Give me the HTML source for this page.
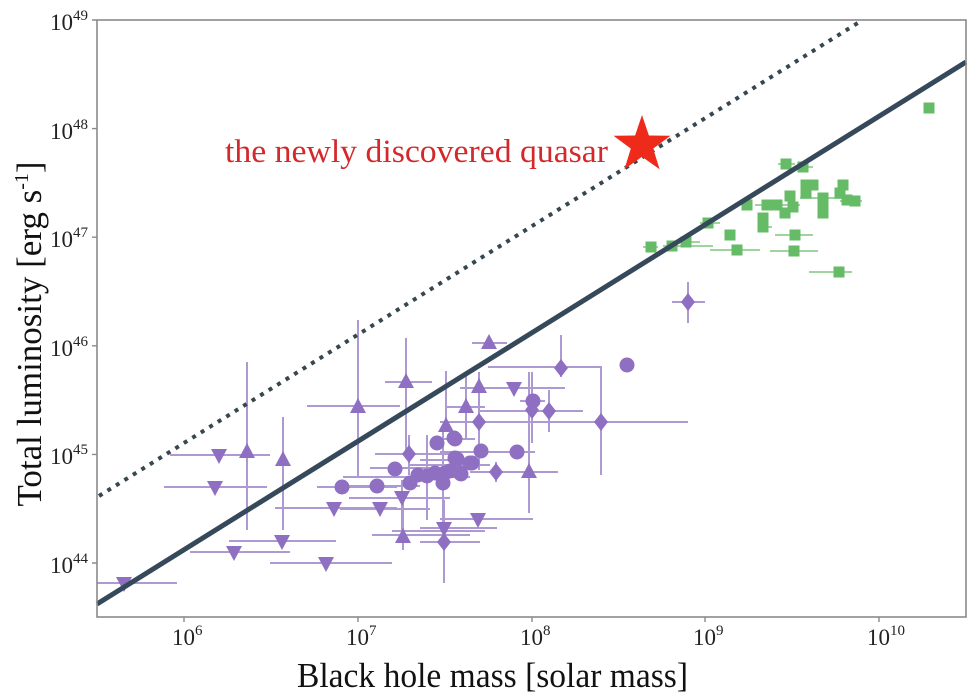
<!DOCTYPE html>
<html><head><meta charset="utf-8"><style>
html,body{margin:0;padding:0;background:#fff;}
svg{display:block;font-family:"Liberation Serif",serif;}
</style></head><body>
<svg width="980" height="700" viewBox="0 0 980 700" xmlns="http://www.w3.org/2000/svg">
<rect width="980" height="700" fill="#fff"/>
<path fill="none" stroke="#9fd49f" stroke-width="2" d="M778 164H795M794 167H813M800 198H845M840 201H862M755 205H800M758 227H772M700 223H720M775 235H813M677 242H700M663 246H713M643 247H658M710 250H760M770 251H818M809 272H852"/>
<path fill="#66bb66" d="M923.5 102.5h11v11h-11zM780.5 158.5h11v11h-11zM797.5 161.5h11v11h-11zM800.5 179.5h11v11h-11zM807.5 179.5h11v11h-11zM837.5 179.5h11v11h-11zM800.5 187.5h11v11h-11zM784.5 190.5h11v11h-11zM817.5 192.5h11v11h-11zM834.5 187.5h11v11h-11zM841.5 194.5h11v11h-11zM849.5 195.5h11v11h-11zM741.5 199.5h11v11h-11zM761.5 199.5h11v11h-11zM771.5 199.5h11v11h-11zM787.5 201.5h11v11h-11zM817.5 201.5h11v11h-11zM779.5 207.5h11v11h-11zM817.5 207.5h11v11h-11zM757.5 212.5h11v11h-11zM757.5 221.5h11v11h-11zM702.5 217.5h11v11h-11zM724.5 229.5h11v11h-11zM789.5 229.5h11v11h-11zM680.5 236.5h11v11h-11zM666.5 240.5h11v11h-11zM645.5 241.5h11v11h-11zM731.5 244.5h11v11h-11zM788.5 245.5h11v11h-11zM833.5 266.5h11v11h-11z"/>
<path fill="none" stroke="#ad9ad3" stroke-width="2" d="M97 583H177M170 455H270M247 362V530M164 487H267M283 417V530M229 541H336M190 552H290M270 563H392M358 320V477M307 406H400M317 487H397M335 486H420M275 508H397M340 509H430M406 338V453M385 382H432M375 454H450M409 435V475M370 468H430M343 477H470M427 435V520M443 430V530M349 498H450M402 480V540M440 519H533M420 528H497M372 535H470M403 500V550M420 542H480M444 500V583M392 531H485M472 343H507M488 367H602M561 335V377M517 422H688M601 368V475M460 388H565M479 372V470M445 407H485M466 375V440M446 371V430M520 401H545M480 411H583M532 372V443M549 390V432M440 422H600M440 439H475M440 452H510M500 452H535M470 472H520M496 462V482M529 372V513M505 472H558M672 302H705M688 282V323M420 460H475M410 465H490"/>
<path fill="#8f6fc2" d="M116 577h16l-8 15zM211 449h16l-8 15zM207 481h16l-8 15zM274 535h16l-8 15zM226 546h16l-8 15zM318 557h16l-8 15zM326 502h16l-8 15zM372 502h16l-8 15zM394 491h16l-8 15zM470 513h16l-8 15zM436 522h16l-8 15zM506 382h16l-8 15z"/>
<path fill="#8f6fc2" d="M247 443l8 15h-16zM283 451l8 15h-16zM358 398l8 15h-16zM406 373l8 15h-16zM489 334l8 15h-16zM479 378l8 15h-16zM466 398l8 15h-16zM446 417l8 15h-16zM403 528l8 15h-16zM529 463l8 15h-16z"/>
<path fill="#8f6fc2" d="M479 413l7 9-7 9-7-9zM409 445l7 9-7 9-7-9zM444 533l7 9-7 9-7-9zM561 359l7 9-7 9-7-9zM601 413l7 9-7 9-7-9zM532 401l7 9-7 9-7-9zM549 402l7 9-7 9-7-9zM496 463l7 9-7 9-7-9zM688 293l7 9-7 9-7-9z"/>
<g fill="#8f6fc2">
<circle cx="342" cy="487" r="7.5"/><circle cx="377" cy="486" r="7.5"/><circle cx="395" cy="469" r="7.5"/><circle cx="437" cy="443" r="7.5"/>
<circle cx="454" cy="438" r="7.5"/><circle cx="418" cy="475" r="7.5"/><circle cx="427" cy="476" r="7.5"/><circle cx="435" cy="473" r="7.5"/>
<circle cx="445" cy="473" r="7.5"/><circle cx="450" cy="471" r="7.5"/><circle cx="457" cy="459" r="7.5"/><circle cx="461" cy="474" r="7.5"/>
<circle cx="472" cy="463" r="7.5"/><circle cx="481" cy="451" r="7.5"/><circle cx="410" cy="483" r="7.5"/><circle cx="443" cy="483" r="7.5"/>
<circle cx="627" cy="365" r="7.5"/><circle cx="533" cy="401" r="7.5"/><circle cx="455" cy="439" r="7.5"/><circle cx="517" cy="452" r="7.5"/>
<circle cx="455" cy="458" r="7.5"/><circle cx="470" cy="463" r="7.5"/><circle cx="460" cy="473" r="7.5"/>
</g>
<line x1="97" y1="604" x2="966" y2="62" stroke="#35495a" stroke-width="5"/>
<line x1="99" y1="496" x2="861" y2="21" stroke="#37474f" stroke-width="4" stroke-dasharray="4 6"/>
<polygon fill="#ee2a1b" points="642.0,115.0 648.9,135.5 670.5,135.7 653.2,148.6 659.6,169.3 642.0,156.8 624.4,169.3 630.8,148.6 613.5,135.7 635.1,135.5"/>
<text x="225" y="162" font-size="33" fill="#d4292b" textLength="383" lengthAdjust="spacingAndGlyphs">the newly discovered quasar</text>
<rect x="97" y="20" width="869" height="597" fill="none" stroke="#8a8a8a" stroke-width="1.6"/>
<path fill="none" stroke="#8a8a8a" stroke-width="1.4" d="M92 20H97M92 128.6H97M92 237.2H97M92 345.8H97M92 454.4H97M92 563H97M184 617V622M358 617V622M532 617V622M705 617V622M879 617V622"/>
<g font-size="23" fill="#222" text-anchor="end">
<text x="88" y="30">10<tspan dy="-10" font-size="15">49</tspan></text>
<text x="88" y="139">10<tspan dy="-10" font-size="15">48</tspan></text>
<text x="88" y="247">10<tspan dy="-10" font-size="15">47</tspan></text>
<text x="88" y="356">10<tspan dy="-10" font-size="15">46</tspan></text>
<text x="88" y="464">10<tspan dy="-10" font-size="15">45</tspan></text>
<text x="88" y="573">10<tspan dy="-10" font-size="15">44</tspan></text>
</g>
<g font-size="23" fill="#222">
<text x="172" y="645">10<tspan dy="-10" font-size="15">6</tspan></text>
<text x="346" y="645">10<tspan dy="-10" font-size="15">7</tspan></text>
<text x="520" y="645">10<tspan dy="-10" font-size="15">8</tspan></text>
<text x="693" y="645">10<tspan dy="-10" font-size="15">9</tspan></text>
<text x="867" y="645">10<tspan dy="-10" font-size="15">10</tspan></text>
</g>
<text x="297" y="687" font-size="35" fill="#111" textLength="391" lengthAdjust="spacingAndGlyphs">Black hole mass [solar mass]</text>
<text transform="translate(41,334) rotate(-90)" text-anchor="middle" font-size="35" fill="#111">Total luminosity [erg s<tspan dy="-13" font-size="20">-1</tspan><tspan dy="13">]</tspan></text>
</svg>
</body></html>
